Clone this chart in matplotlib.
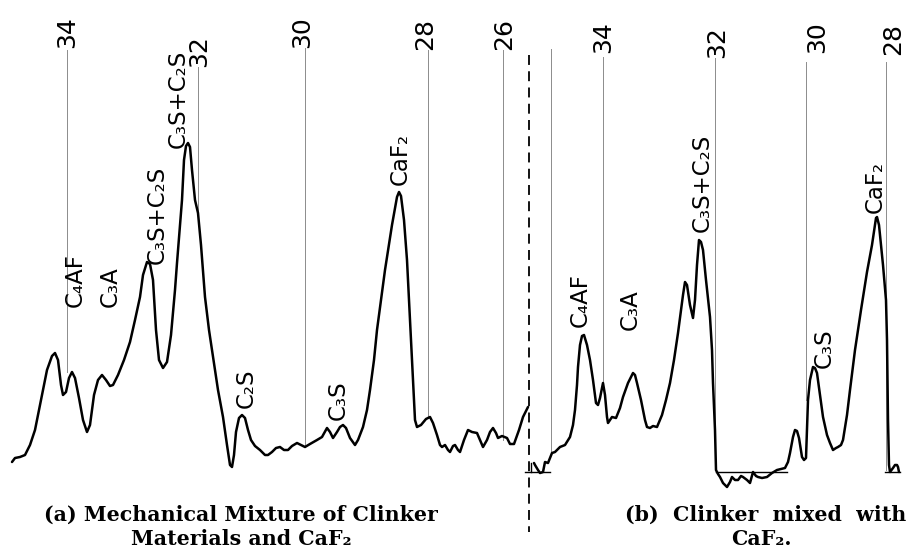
import matplotlib
matplotlib.use("Agg")
import matplotlib.pyplot as plt

# chart paper units: x = distance along the chart, y = pen position (down = low count)
trace_a_x = [12, 15, 20, 25, 30, 35, 42, 47, 52, 55, 58, 61, 63, 66, 69, 72, 75, 79, 83, 87,
             90, 94, 98, 102, 106, 110, 113, 118, 124, 130, 135, 140, 143, 147, 150, 153, 156, 159, 163, 167,
             171, 175, 177, 180, 182, 184, 186, 188, 190, 192, 195, 198, 201, 205, 209, 213, 218, 223, 227, 230,
             232, 234, 236, 239, 242, 245, 248, 251, 255, 260, 265, 268, 272, 276, 280, 284, 288, 292, 297, 301,
             305, 310, 317, 322, 327, 330, 333, 337, 340, 343, 346, 350, 355, 358, 363, 367, 370, 374, 377, 385,
             392, 397, 399, 401, 404, 407, 410, 413, 415, 417, 421, 426, 430, 433, 437, 440, 442, 445, 448, 450,
             453, 455, 458, 460, 464, 468, 472, 477, 480, 483, 487, 490, 493, 496, 498, 502, 507, 510, 514, 519,
             523, 528]
trace_a_y = [462, 458, 457, 455, 445, 430, 395, 370, 356, 353, 360, 385, 395, 392, 378, 372, 378, 398, 420, 432,
             425, 395, 380, 375, 380, 386, 385, 375, 360, 342, 320, 297, 275, 262, 264, 280, 330, 360, 368, 362,
             335, 290, 263, 225, 200, 160, 146, 143, 147, 170, 200, 213, 245, 297, 330, 357, 390, 417, 445, 465,
             467, 455, 432, 418, 415, 418, 430, 440, 446, 450, 455, 455, 452, 448, 447, 450, 450, 446, 443, 445,
             447, 444, 440, 437, 428, 432, 438, 432, 427, 425, 428, 438, 445, 440, 427, 410, 390, 360, 330, 270,
             225, 197, 192, 196, 220, 260, 320, 380, 420, 427, 425, 419, 417, 423, 435, 445, 447, 445, 450, 452,
             446, 445, 450, 452, 440, 430, 432, 433, 440, 447, 440, 432, 428, 433, 438, 436, 438, 444, 444, 430,
             417, 407]

trace_b_x = [534, 535, 538, 540, 543, 545, 548, 552, 555, 560, 565, 570, 573, 575, 577, 578, 580, 582, 584, 587,
             590, 593, 596, 598, 600, 603, 605, 607, 608, 610, 612, 616, 620, 623, 628, 633, 635, 637, 641, 645,
             647, 650, 653, 657, 662, 666, 670, 674, 678, 681, 683, 685, 687, 690, 693, 695, 697, 699, 701, 703,
             706, 710, 712, 713, 715, 716, 718, 720, 723, 727, 730, 732, 735, 738, 741, 743, 747, 750, 753, 756,
             758, 762, 767, 772, 777, 781, 785, 788, 790, 793, 795, 797, 799, 802, 804, 806, 807, 808, 810, 813,
             815, 817, 820, 823, 827, 830, 833, 836, 838, 841, 843, 847, 850, 855, 861, 867, 872, 876, 877, 879,
             883, 886, 887, 888, 889, 890, 893, 895, 897, 898, 899]
trace_b_y = [463, 465, 470, 473, 472, 462, 463, 453, 452, 447, 445, 437, 425, 410, 385, 367, 345, 336, 335, 345,
             360, 380, 403, 405, 398, 383, 395, 417, 423, 420, 417, 418, 408, 397, 383, 373, 375, 383, 400, 420,
             427, 428, 426, 427, 415, 400, 383, 360, 333, 310, 295, 282, 285, 305, 318, 300, 265, 240, 242, 250,
             280, 317, 350, 383, 430, 470, 474, 477, 483, 487, 482, 477, 480, 480, 476, 477, 480, 483, 472, 476,
             477, 478, 477, 473, 470, 469, 468, 462, 453, 437, 430, 431, 438, 457, 460, 458, 430, 400, 380, 367,
             368, 373, 395, 417, 435, 443, 450, 448, 447, 445, 440, 415, 390, 350, 310, 272, 245, 218, 217, 225,
             265, 300, 340, 420, 465, 472, 468, 465, 465, 467, 472]

# 2-theta reference lines
grid_a_pos = [67, 198, 305, 428, 503]
grid_a_lab = ["34", "32", "30", "28", "26"]
grid_b_pos = [551, 603, 715, 806, 886]
grid_b_lab = ["", "34", "32", "30", "28"]

# peak assignments
peaks_a = ["C₄AF", "C₃A", "C₃S+C₂S", "C₃S+C₂S", "C₂S", "C₃S", "CaF₂"]
peaks_b = ["C₄AF", "C₃A", "C₃S+C₂S", "C₃S", "CaF₂"]

caption_a = ["(a) Mechanical Mixture of Clinker", "Materials and CaF₂"]
caption_b = ["(b)  Clinker  mixed  with", "CaF₂."]

# layout
grid_a_top = [50, 67, 48, 50, 50]
grid_a_bot = [372, 213, 447, 418, 440]
grid_a_txt = [(67, 48), (199, 67), (302, 48), (425, 50), (504, 50)]
grid_b_top = [49, 57, 58, 62, 62]
grid_b_bot = [453, 383, 470, 400, 470]
grid_b_txt = [(551, 49), (603, 53), (717, 58), (817, 53), (893, 55)]
peaks_a_xy = [(75, 280), (110, 287), (157, 215), (178, 99), (246, 388), (338, 400), (400, 159)]
peaks_b_xy = [(580, 300), (630, 310), (702, 183), (824, 348), (875, 187)]

fig = plt.figure(figsize=(9.08, 5.48), dpi=100)
ax = fig.add_axes([0, 0, 1, 1])
ax.set_xlim(0, 908)
ax.set_ylim(548, 0)
ax.axis("off")

grid_col = "#8c8c8c"
for pos, top, bot in zip(grid_a_pos + grid_b_pos, grid_a_top + grid_b_top, grid_a_bot + grid_b_bot):
    ax.plot([pos, pos], [top, bot], color=grid_col, lw=0.7, zorder=1)

for lab, (x, y) in zip(grid_a_lab + grid_b_lab, grid_a_txt + grid_b_txt):
    ax.text(x, y, lab, rotation=90, ha="center", va="bottom", fontsize=18, family="DejaVu Sans")

for lab, (x, y) in zip(peaks_a + peaks_b, peaks_a_xy + peaks_b_xy):
    ax.text(x, y, lab, rotation=90, ha="center", va="center", fontsize=16.5, family="DejaVu Sans")

# traces
ax.plot(trace_a_x, trace_a_y, color="black", lw=1.8, solid_joinstyle="round", solid_capstyle="round", zorder=3)
ax.plot(trace_b_x, trace_b_y, color="black", lw=1.8, solid_joinstyle="round", solid_capstyle="round", zorder=3)

# zero lines and marks on panel b
ax.plot([525, 550], [472, 472], color="black", lw=1.0)
ax.plot([531, 531], [463, 472], color="black", lw=1.0)
ax.plot([716, 787], [472, 472], color="black", lw=1.0)
ax.plot([885, 900], [472, 472], color="black", lw=1.0)

# divider between the two patterns
ax.plot([529, 529], [55, 532], color="black", lw=1.3, linestyle=(0, (5.5, 3.5)))

cap_kw = dict(family="DejaVu Serif", fontweight="bold", fontsize=14.8, ha="center", va="baseline")
ax.text(241, 521, caption_a[0], **cap_kw)
ax.text(241, 545, caption_a[1], **cap_kw)
ax.text(766, 521, caption_b[0], **cap_kw)
ax.text(761, 545, caption_b[1], **cap_kw)

fig.savefig("out.png", dpi=100, facecolor="white")
